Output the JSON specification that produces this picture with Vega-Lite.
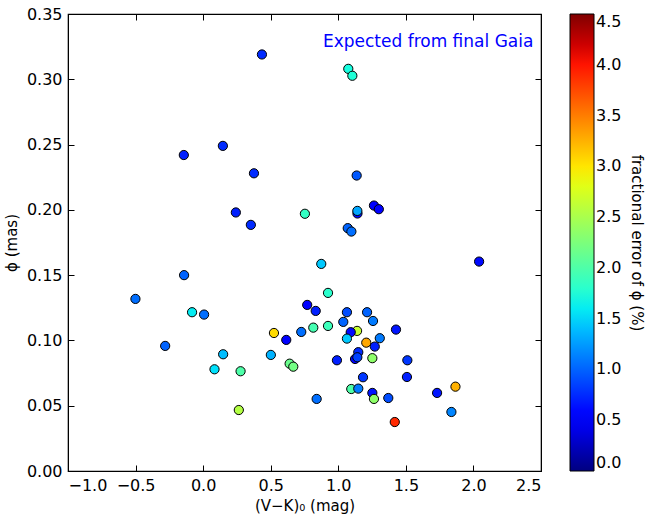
{
  "$schema": "https://vega.github.io/schema/vega-lite/v6.json",
  "width": 473,
  "height": 457,
  "autosize": {"type": "none"},
  "padding": {"left": 68, "top": 14, "right": 108, "bottom": 47},
  "background": "white",
  "config": {
    "font": "DejaVu Sans",
    "view": {"stroke": "black", "strokeWidth": 1.2},
    "axis": {
      "grid": false,
      "domainColor": "black",
      "tickColor": "black",
      "labelColor": "black",
      "titleColor": "black",
      "labelFont": "DejaVu Sans",
      "titleFont": "DejaVu Sans",
      "labelFontSize": 16,
      "titleFontSize": 15,
      "titleFontWeight": "normal",
      "tickSize": -6,
      "labelPadding": 12
    },
    "legend": {
      "labelFont": "DejaVu Sans",
      "titleFont": "DejaVu Sans",
      "labelFontSize": 16,
      "titleFontSize": 15,
      "titleFontWeight": "normal",
      "labelColor": "black",
      "titleColor": "black"
    }
  },
  "data": {
    "values": [
      {"vk": 0.435, "phi": 0.319, "err": 0.75},
      {"vk": -0.143, "phi": 0.242, "err": 0.7},
      {"vk": 0.146, "phi": 0.249, "err": 0.75},
      {"vk": 0.376, "phi": 0.228, "err": 0.75},
      {"vk": 0.242, "phi": 0.198, "err": 0.7},
      {"vk": 0.353, "phi": 0.1885, "err": 0.75},
      {"vk": 0.753, "phi": 0.197, "err": 1.85},
      {"vk": 1.074, "phi": 0.308, "err": 1.7},
      {"vk": 1.104, "phi": 0.3027, "err": 1.75},
      {"vk": 1.136, "phi": 0.2263, "err": 0.95},
      {"vk": 1.142, "phi": 0.1972, "err": 0.6},
      {"vk": 1.141, "phi": 0.1992, "err": 1.3},
      {"vk": 1.264, "phi": 0.2033, "err": 0.55},
      {"vk": 1.3, "phi": 0.2005, "err": 0.55},
      {"vk": 1.07, "phi": 0.186, "err": 1.0},
      {"vk": 1.097, "phi": 0.1834, "err": 1.05},
      {"vk": 2.042, "phi": 0.1604, "err": 0.6},
      {"vk": 0.874, "phi": 0.1586, "err": 1.45},
      {"vk": -0.501, "phi": 0.1318, "err": 1.05},
      {"vk": -0.141, "phi": 0.15, "err": 1.0},
      {"vk": -0.082, "phi": 0.1216, "err": 1.6},
      {"vk": 0.007, "phi": 0.1198, "err": 1.05},
      {"vk": -0.281, "phi": 0.0958, "err": 1.0},
      {"vk": 0.148, "phi": 0.0894, "err": 1.4},
      {"vk": 0.084, "phi": 0.0779, "err": 1.55},
      {"vk": 0.277, "phi": 0.0764, "err": 2.0},
      {"vk": 0.264, "phi": 0.0467, "err": 2.55},
      {"vk": 0.524, "phi": 0.1057, "err": 3.05},
      {"vk": 0.615, "phi": 0.1004, "err": 0.55},
      {"vk": 0.501, "phi": 0.0889, "err": 1.35},
      {"vk": 0.64, "phi": 0.0822, "err": 2.15},
      {"vk": 0.667, "phi": 0.0799, "err": 2.2},
      {"vk": 0.726, "phi": 0.1065, "err": 1.05},
      {"vk": 0.77, "phi": 0.1272, "err": 0.55},
      {"vk": 0.833, "phi": 0.1226, "err": 0.7},
      {"vk": 0.815, "phi": 0.1098, "err": 1.95},
      {"vk": 0.84, "phi": 0.0552, "err": 1.05},
      {"vk": 0.924, "phi": 0.1364, "err": 1.8},
      {"vk": 0.924, "phi": 0.1111, "err": 1.9},
      {"vk": 1.064, "phi": 0.1216, "err": 0.9},
      {"vk": 1.037, "phi": 0.1142, "err": 1.0},
      {"vk": 1.213, "phi": 0.1216, "err": 1.0},
      {"vk": 1.257, "phi": 0.1149, "err": 1.1},
      {"vk": 1.139, "phi": 0.1073, "err": 2.65},
      {"vk": 1.092, "phi": 0.1063, "err": 0.6},
      {"vk": 1.064, "phi": 0.1014, "err": 1.45},
      {"vk": 1.307, "phi": 0.1017, "err": 1.1},
      {"vk": 1.207, "phi": 0.0983, "err": 3.3},
      {"vk": 1.27, "phi": 0.0953, "err": 0.7},
      {"vk": 1.427, "phi": 0.1083, "err": 0.65},
      {"vk": 0.99, "phi": 0.0848, "err": 0.7},
      {"vk": 1.148, "phi": 0.091, "err": 0.75},
      {"vk": 1.124, "phi": 0.0858, "err": 0.5},
      {"vk": 1.141, "phi": 0.0871, "err": 0.85},
      {"vk": 1.252, "phi": 0.0864, "err": 2.35},
      {"vk": 1.511, "phi": 0.0848, "err": 0.8},
      {"vk": 1.183, "phi": 0.0718, "err": 0.8},
      {"vk": 1.508, "phi": 0.072, "err": 0.7},
      {"vk": 1.096, "phi": 0.0628, "err": 2.0},
      {"vk": 1.148, "phi": 0.0631, "err": 1.1},
      {"vk": 1.252, "phi": 0.0598, "err": 0.65},
      {"vk": 1.264, "phi": 0.0552, "err": 2.35},
      {"vk": 1.37, "phi": 0.0559, "err": 0.9},
      {"vk": 1.731, "phi": 0.0598, "err": 0.65},
      {"vk": 1.867, "phi": 0.0646, "err": 3.25},
      {"vk": 1.837, "phi": 0.0452, "err": 1.15},
      {"vk": 1.418, "phi": 0.0375, "err": 3.9}
    ]
  },
  "layer": [
    {
      "mark": {"type": "circle", "size": 85, "opacity": 1, "stroke": "black", "strokeWidth": 1},
      "encoding": {
        "x": {
          "field": "vk", "type": "quantitative",
          "scale": {"domain": [-1, 2.5], "nice": false, "zero": false},
          "axis": {"orient": "bottom", "values": [-1, -0.5, 0, 0.5, 1, 1.5, 2, 2.5], "format": ".1f", "title": "(V−K)₀ (mag)", "titlePadding": 5}
        },
        "y": {
          "field": "phi", "type": "quantitative",
          "scale": {"domain": [0, 0.35], "nice": false},
          "axis": {"orient": "left", "values": [0, 0.05, 0.1, 0.15, 0.2, 0.25, 0.3, 0.35], "format": ".2f", "title": "ϕ (mas)", "titlePadding": 7}
        },
        "fill": {
          "field": "err", "type": "quantitative",
          "scale": {
            "domain": [0, 0.495, 0.5625, 1.53, 1.575, 1.6875, 2.88, 2.925, 2.97, 4.005, 4.095, 4.5],
            "range": ["#000080", "#0000ff", "#0000ff", "#00dbff", "#00e6f7", "#15ffe2", "#efff08", "#f7f600", "#ffec00", "#ff1300", "#e80000", "#800000"],
            "interpolate": "rgb"
          },
          "legend": {
            "orient": "right",
            "direction": "vertical",
            "offset": 28,
            "gradientLength": 457,
            "gradientThickness": 24,
            "gradientStrokeColor": "black",
            "gradientStrokeWidth": 1,
            "values": [0, 0.5, 1, 1.5, 2, 2.5, 3, 3.5, 4, 4.5],
            "format": ".1f",
            "labelOverlap": false,
            "encode": {"labels": {"update": {"dy": {"signal": "datum.value >= 4.4 ? -6 : datum.value <= 0.1 ? 7 : 0"}}}},
            "title": "fractional error of ϕ (%)",
            "titleOrient": "right",
            "titlePadding": 8
          }
        }
      }
    },
    {
      "mark": {"type": "point", "opacity": 0},
      "encoding": {
        "x": {"field": "vk", "type": "quantitative", "axis": {"orient": "top", "values": [-1, -0.5, 0, 0.5, 1, 1.5, 2, 2.5], "labels": false, "title": null}},
        "y": {"field": "phi", "type": "quantitative", "axis": {"orient": "right", "values": [0, 0.05, 0.1, 0.15, 0.2, 0.25, 0.3, 0.35], "labels": false, "title": null}}
      }
    },
    {
      "data": {"values": [{"label": "Expected from final Gaia"}]},
      "mark": {"type": "text", "color": "#0000ff", "fontSize": 17, "font": "DejaVu Sans", "align": "center", "baseline": "middle"},
      "encoding": {
        "text": {"field": "label"},
        "x": {"datum": 1.665, "type": "quantitative", "axis": null},
        "y": {"datum": 0.3287, "type": "quantitative", "axis": null}
      }
    }
  ],
  "resolve": {"axis": {"x": "independent", "y": "independent"}}
}
